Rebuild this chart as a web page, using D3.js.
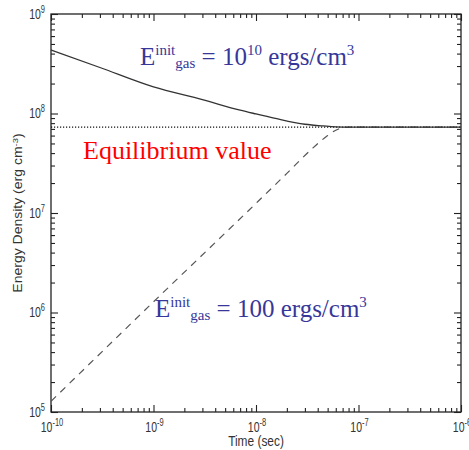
<!DOCTYPE html>
<html>
<head>
<meta charset="utf-8">
<script src="https://cdn.jsdelivr.net/npm/d3@7"></script>
<style>
  html, body { margin: 0; padding: 0; background: #fff; }
  svg { display: block; }
</style>
</head>
<body>
<svg id="chart" width="469" height="450"></svg>
<script>
// Time samples (s) and energy densities (erg cm^-3) for the two relaxation runs
const timeHigh = [1e-10, 3e-10, 1e-9, 3e-9, 7e-9, 1e-8, 1.5e-8, 3e-8, 4.5e-8, 7e-8, 1e-7, 1e-6];
const energyHigh = [4.35e8, 2.9e8, 1.85e8, 1.38e8, 1.08e8, 9.9e7, 9.0e7, 7.8e7, 7.5e7, 7.3e7, 7.3e7, 7.3e7];

const timeLow = [1e-10, 1e-9, 1e-8, 2e-8, 3.5e-8, 5e-8, 6e-8, 7e-8, 8e-8, 1e-7, 1e-6];
const energyLow = [1.28e5, 1.28e6, 1.25e7, 2.5e7, 4.4e7, 6.0e7, 6.8e7, 7.2e7, 7.3e7, 7.3e7, 7.3e7];

const equilibriumEnergy = 7.3e7;

const xDecades = [-10, -9, -8, -7, -6];
const yDecades = [5, 6, 7, 8, 9];

const svg = d3.select("#chart");
const plotLeft = 51, plotRight = 461, plotTop = 14, plotBottom = 412;

const x = d3.scaleLog().domain([1e-10, 1e-6]).range([plotLeft, plotRight]);
const y = d3.scaleLog().domain([1e5, 1e9]).range([plotBottom, plotTop]);

// major and minor tick values
const xMajor = xDecades.map(e => Math.pow(10, e));
const yMajor = yDecades.map(e => Math.pow(10, e));
const minorOf = decs => {
  const out = [];
  for (let i = 0; i < decs.length - 1; i++)
    for (let m = 2; m <= 9; m++) out.push(m * Math.pow(10, decs[i]));
  return out;
};
const xMinor = minorOf(xDecades);
const yMinor = minorOf(yDecades);

const axisColor = "#222";
function styleAxis(g) {
  g.select(".domain").remove();
  g.selectAll("line").attr("stroke", axisColor).attr("stroke-width", 1.1);
  g.selectAll("text").remove();
}

// inward ticks on all four sides
[[xMajor, 7], [xMinor, 4]].forEach(([vals, len]) => {
  svg.append("g").attr("transform", `translate(0,${plotBottom})`)
    .call(d3.axisBottom(x).tickValues(vals).tickSize(-len).tickFormat(""))
    .call(styleAxis);
  svg.append("g").attr("transform", `translate(0,${plotTop})`)
    .call(d3.axisTop(x).tickValues(vals).tickSize(-len).tickFormat(""))
    .call(styleAxis);
});
[[yMajor, 7], [yMinor, 4]].forEach(([vals, len]) => {
  svg.append("g").attr("transform", `translate(${plotLeft},0)`)
    .call(d3.axisLeft(y).tickValues(vals).tickSize(-len).tickFormat(""))
    .call(styleAxis);
  svg.append("g").attr("transform", `translate(${plotRight},0)`)
    .call(d3.axisRight(y).tickValues(vals).tickSize(-len).tickFormat(""))
    .call(styleAxis);
});

// frame
svg.append("rect")
  .attr("x", plotLeft).attr("y", plotTop)
  .attr("width", plotRight - plotLeft).attr("height", plotBottom - plotTop)
  .attr("fill", "none").attr("stroke", axisColor).attr("stroke-width", 1.3);

// power-of-ten tick labels (narrow sans)
const labelFont = "Liberation Sans, Arial, Helvetica, sans-serif";
function powerLabel(g, exp, anchor) {
  const t = g.append("text")
    .attr("font-family", labelFont)
    .attr("font-size", 14)
    .attr("fill", "#333")
    .attr("text-anchor", anchor);
  t.append("tspan").text("10");
  t.append("tspan").attr("font-size", 10).attr("dy", -6).text(exp);
  return t;
}
xDecades.forEach(e => {
  const g = svg.append("g")
    .attr("transform", `translate(${x(Math.pow(10, e)) + 1},432) scale(0.75,1)`);
  powerLabel(g, String(e), "middle");
});
yDecades.forEach(e => {
  const g = svg.append("g")
    .attr("transform", `translate(45,${y(Math.pow(10, e)) + 4.5}) scale(0.75,1)`);
  powerLabel(g, String(e), "end");
});

// axis titles
svg.append("g").attr("transform", "translate(256,446) scale(0.85,1)")
  .append("text")
  .attr("font-family", labelFont).attr("font-size", 14).attr("fill", "#333")
  .attr("text-anchor", "middle").text("Time (sec)");

const yt = svg.append("g").attr("transform", "translate(22,213) rotate(-90) scale(1,0.85)")
  .append("text")
  .attr("font-family", labelFont).attr("font-size", 14).attr("fill", "#333")
  .attr("text-anchor", "middle");
yt.append("tspan").text("Energy Density (erg cm");
yt.append("tspan").attr("font-size", 9.5).attr("dy", -5).text("-3");
yt.append("tspan").attr("dy", 5).text(")");

// equilibrium level
svg.append("line")
  .attr("x1", x(1e-10)).attr("x2", x(1e-6))
  .attr("y1", y(equilibriumEnergy)).attr("y2", y(equilibriumEnergy))
  .attr("stroke", "#111").attr("stroke-width", 1.1)
  .attr("stroke-dasharray", "1.2,1.8");

const line = d3.line()
  .x(d => x(d[0])).y(d => y(d[1]))
  .curve(d3.curveMonotoneX);

svg.append("path")
  .datum(d3.zip(timeLow, energyLow))
  .attr("d", line)
  .attr("fill", "none").attr("stroke", "#555").attr("stroke-width", 1.2)
  .attr("stroke-dasharray", "7,6");

svg.append("path")
  .datum(d3.zip(timeHigh, energyHigh))
  .attr("d", line)
  .attr("fill", "none").attr("stroke", "#333").attr("stroke-width", 1.3);

// annotations
const serif = "Liberation Serif, Times New Roman, Times, serif";
const blue = "#37379a";
function energyNote(px, py, value, valueSup) {
  const t = svg.append("text")
    .attr("x", px).attr("y", py)
    .attr("font-family", serif).attr("font-size", 25).attr("fill", blue);
  t.append("tspan").text("E");
  t.append("tspan").attr("font-size", 15).attr("dy", -10).text("init");
  t.append("tspan").attr("font-size", 15).attr("dy", 13).text("gas");
  t.append("tspan").attr("dy", -3).text(" = " + value);
  if (valueSup) {
    t.append("tspan").attr("font-size", 15).attr("dy", -10).text(valueSup);
    t.append("tspan").attr("dy", 10).text(" ergs/cm");
  } else {
    t.append("tspan").text(" ergs/cm");
  }
  t.append("tspan").attr("font-size", 15).attr("dy", -10).text("3");
}
energyNote(140, 65, "10", "10");
energyNote(155, 317, "100", null);

svg.append("text")
  .attr("x", 83).attr("y", 159)
  .attr("font-family", serif).attr("font-size", 26).attr("fill", "#ff0000")
  .text("Equilibrium value");
</script>
</body>
</html>
